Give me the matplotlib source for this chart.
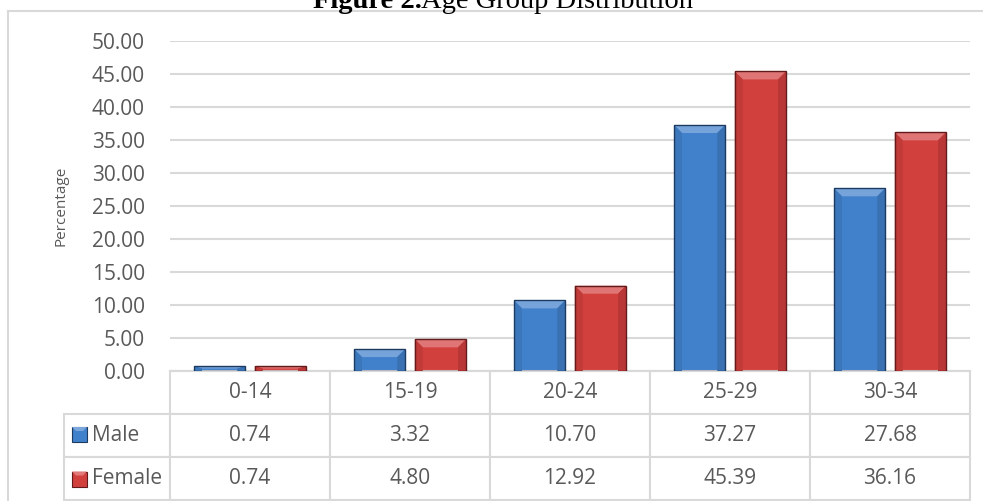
import matplotlib
matplotlib.use("Agg")
import matplotlib.pyplot as plt
from matplotlib.patches import Polygon, Rectangle
from matplotlib.lines import Line2D
from matplotlib.colors import to_rgb

# ---- data ----
categories = ["0-14", "15-19", "20-24", "25-29", "30-34"]
male = [0.74, 3.32, 10.70, 37.27, 27.68]
female = [0.74, 4.80, 12.92, 45.39, 36.16]
series_names = ["Male", "Female"]
y_ticks = [0, 5, 10, 15, 20, 25, 30, 35, 40, 45, 50]

W, H = 983, 501
DPI = 100
plt.rcParams["font.family"] = ["Open Sans", "DejaVu Sans"]
TXT = "#595959"
GRID = "#d9d9d9"

fig = plt.figure(figsize=(W / DPI, H / DPI), dpi=DPI)
fig.patch.set_facecolor("white")

def px_x(x):
    return x / W

def px_y(y):
    return 1 - y / H

# plot area
ax_l, ax_r, ax_t, ax_b = 170, 970, 41, 371
ax = fig.add_axes([px_x(ax_l), px_y(ax_b), (ax_r - ax_l) / W, (ax_b - ax_t) / H])
ax.set_xlim(-0.5, len(categories) - 0.5)
ax.set_ylim(0, 50)
ax.set_yticks(y_ticks)
ax.set_yticklabels([f"{v:.2f}" for v in y_ticks])
ax.set_xticks([])
ax.tick_params(axis="y", length=0, pad=18, labelsize=15, labelcolor=TXT)
for s in ("top", "right", "left"):
    ax.spines[s].set_visible(False)
ax.spines["bottom"].set_color(GRID)
ax.spines["bottom"].set_linewidth(1.5)
ax.yaxis.grid(True, color=GRID, linewidth=1.5)
ax.set_axisbelow(True)

fig.text(px_x(61), px_y(206), "Percentage", rotation=90, ha="center",
         va="center", fontsize=11, color=TXT)

bar_w = 0.32
offset = 0.19
colors = {"Male": "#4180cb", "Female": "#d2403e"}
edges = {"Male": "#1d3a60", "Female": "#621a1a"}


def shade(c, f):
    r, g, b = to_rgb(c)
    if f >= 0:
        return (r + (1 - r) * f, g + (1 - g) * f, b + (1 - b) * f)
    return (r * (1 + f), g * (1 + f), b * (1 + f))


def bevel(patch, face, edge):
    x0 = patch.get_x()
    x1 = x0 + patch.get_width()
    y0 = patch.get_y()
    y1 = y0 + patch.get_height()
    bx = 8 / 160
    by = min(8 / 6.6, (y1 - y0) / 2)
    top = Polygon([(x0, y1), (x1, y1), (x1 - bx, y1 - by), (x0 + bx, y1 - by)],
                  closed=True, facecolor=shade(face, 0.28), edgecolor="none", zorder=3)
    left = Polygon([(x0, y1), (x0 + bx, y1 - by), (x0 + bx, y0), (x0, y0)],
                   closed=True, facecolor=shade(face, -0.08), edgecolor="none", zorder=3)
    right = Polygon([(x1, y1), (x1 - bx, y1 - by), (x1 - bx, y0), (x1, y0)],
                    closed=True, facecolor=shade(face, -0.12), edgecolor="none", zorder=3)
    for p in (top, left, right):
        ax.add_patch(p)
    outline = Rectangle((x0, y0), x1 - x0, y1 - y0, facecolor="none",
                        edgecolor=edge, linewidth=1.0, zorder=4)
    ax.add_patch(outline)


xs = list(range(len(categories)))
for name, vals, sgn in (("Male", male, -1), ("Female", female, 1)):
    bars = ax.bar([x + sgn * offset for x in xs], vals, width=bar_w,
                  color=colors[name], edgecolor="none", zorder=2)
    for p in bars:
        bevel(p, colors[name], edges[name])

# ---- data table (bbox covers the value cells; row labels sit to the left) ----
tab_b = 500
cell_text = [[f"{v:.2f}" for v in male], [f"{v:.2f}" for v in female]]
tbl = ax.table(cellText=cell_text, rowLabels=series_names, colLabels=categories,
               cellLoc="center", rowLoc="left", colWidths=[0.2] * 5,
               bbox=[0, -(tab_b - ax_b) / (ax_b - ax_t), 1, (tab_b - ax_b) / (ax_b - ax_t)])
tbl._autoColumns = []
tbl.auto_set_font_size(False)
tbl.set_fontsize(15)
for (r, c), cell in tbl.get_celld().items():
    cell.set_edgecolor(GRID)
    cell.set_linewidth(1.5)
    cell.get_text().set_color(TXT)
    cell.get_text().set_fontfamily(["Open Sans", "DejaVu Sans"])
    if c == -1:
        cell.set_width(0.2 * 106 / 160)
        cell.PAD = 0.26

# legend keys inside the table's row labels
for name, cy in (("Male", 434.5), ("Female", 479.0)):
    sz = 15
    kx0, ky0 = 72, cy + sz / 2
    face = colors[name]
    key = Rectangle((px_x(kx0), px_y(ky0)), sz / W, sz / H, transform=fig.transFigure,
                    facecolor=face, edgecolor=edges[name], linewidth=0.8, zorder=5)
    fig.patches.append(key)
    b = 4
    tri = Polygon([(px_x(kx0), px_y(cy - sz / 2)), (px_x(kx0 + sz), px_y(cy - sz / 2)),
                   (px_x(kx0 + sz - b), px_y(cy - sz / 2 + b)),
                   (px_x(kx0 + b), px_y(cy - sz / 2 + b))],
                  closed=True, transform=fig.transFigure, facecolor=shade(face, 0.3),
                  edgecolor="none", zorder=6)
    fig.patches.append(tri)

# outer chart frame
fig.add_artist(Line2D([px_x(8), px_x(8)], [px_y(11), px_y(H + 5)], color=GRID, lw=1.5))
fig.add_artist(Line2D([px_x(8), px_x(W + 5)], [px_y(11), px_y(11)], color=GRID, lw=1.5))

# title, bold caption number followed by regular text
serif = ["Liberation Serif", "DejaVu Serif"]
t1 = fig.text(0, px_y(7.5), "Figure 2.", fontsize=20.5, fontweight="bold",
              family=serif, va="baseline", ha="left")
t2 = fig.text(0, px_y(7.5), "Age Group Distribution", fontsize=20.5,
              family=serif, va="baseline", ha="left")
renderer = fig.canvas.get_renderer()
w1 = t1.get_window_extent(renderer).width
w2 = t2.get_window_extent(renderer).width
cx = 503
start = cx - (w1 + w2) / 2
t1.set_x(px_x(start))
t2.set_x(px_x(start + w1))

fig.savefig("out.png", dpi=DPI)
